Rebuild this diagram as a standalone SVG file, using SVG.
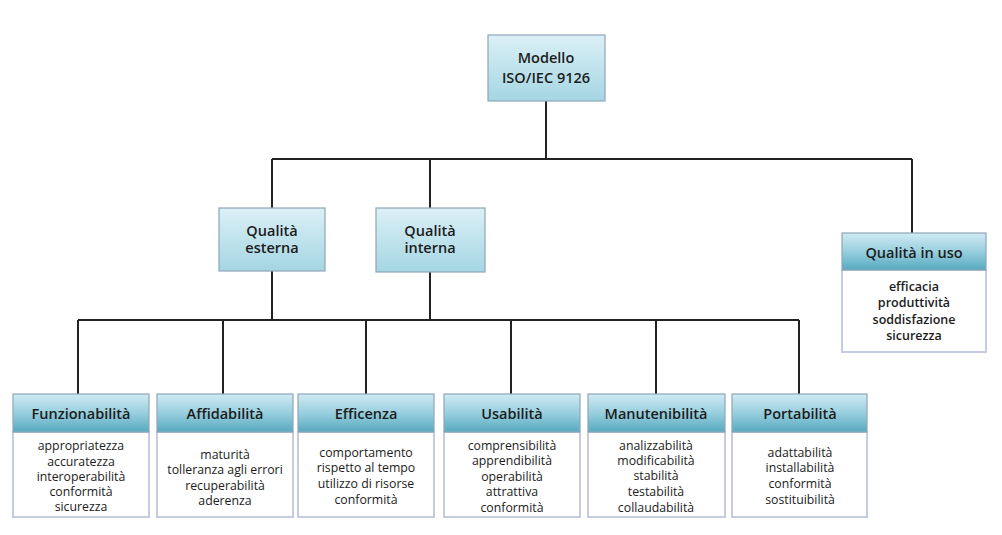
<svg xmlns="http://www.w3.org/2000/svg" width="1002" height="535" viewBox="0 0 1002 535">
<defs>
<linearGradient id="gTop" x1="0" y1="0" x2="0" y2="1">
<stop offset="0" stop-color="#dcf0f6"/>
<stop offset="1" stop-color="#a4d6e3"/>
</linearGradient>
<linearGradient id="gHead" x1="0" y1="0" x2="0" y2="1">
<stop offset="0" stop-color="#d0ebf3"/>
<stop offset="0.5" stop-color="#98cfde"/>
<stop offset="1" stop-color="#56a9c0"/>
</linearGradient>
<style>
.top{fill:url(#gTop);stroke:#8fa6b8;stroke-width:1.2}
.head{fill:url(#gHead);stroke:#8fa6b8;stroke-width:1.2}
.body{fill:#ffffff;stroke:#c5cbe0;stroke-width:2}
.t{font-family:"Open Sans","DejaVu Sans",sans-serif;fill:#1c1c1c;text-anchor:middle}
.tl{font-size:14.5px;font-weight:600}
.tb{font-size:12.3px}
.tq{font-size:12.5px;font-weight:600}
.conn{stroke:#222;stroke-width:2;fill:none}
</style>
</defs>
<rect width="1002" height="535" fill="#ffffff"/>
<g id="connectors" class="conn">
<path d="M546 101V159M272 159H912M272 159V208M430 159V208M912 159V233"/>
<path d="M272 271V320M430 272V320M78 320H799M78 320V394M223 320V394M366 320V394M511 320V394M656 320V394M799 320V394"/>
</g>
<g id="modello">
<rect class="top" x="488" y="35" width="117" height="66"/>
<text class="t tl" x="546" y="63">Modello</text>
<text class="t tl" x="546" y="83">ISO/IEC 9126</text>
</g>
<g id="qualita-esterna">
<rect class="top" x="219" y="208" width="106" height="63"/>
<text class="t tl" x="272" y="236">Qualità</text>
<text class="t tl" x="272" y="253">esterna</text>
</g>
<g id="qualita-interna">
<rect class="top" x="376" y="208" width="109" height="64"/>
<text class="t tl" x="430" y="236">Qualità</text>
<text class="t tl" x="430" y="253">interna</text>
</g>
<g id="qualita-in-uso">
<rect class="body" x="842" y="270" width="144" height="82"/>
<rect class="head" x="842" y="233" width="144" height="37"/>
<text class="t tl" x="914" y="258">Qualità in uso</text>
<text class="t tq" x="914" y="291">efficacia</text>
<text class="t tq" x="914" y="307">produttività</text>
<text class="t tq" x="914" y="324">soddisfazione</text>
<text class="t tq" x="914" y="340">sicurezza</text>
</g>
<g id="funzionabilita">
<rect class="body" x="13" y="432" width="136" height="85"/>
<rect class="head" x="13" y="394" width="136" height="38"/>
<text class="t tl" x="81" y="419">Funzionabilità</text>
<text class="t tb" x="81" y="450">appropriatezza</text>
<text class="t tb" x="81" y="466">accuratezza</text>
<text class="t tb" x="81" y="481">interoperabilità</text>
<text class="t tb" x="81" y="496">conformità</text>
<text class="t tb" x="81" y="511">sicurezza</text>
</g>
<g id="affidabilita">
<rect class="body" x="157" y="432" width="136" height="85"/>
<rect class="head" x="157" y="394" width="136" height="38"/>
<text class="t tl" x="225" y="419">Affidabilità</text>
<text class="t tb" x="225" y="459">maturità</text>
<text class="t tb" x="225" y="474">tolleranza agli errori</text>
<text class="t tb" x="225" y="490">recuperabilità</text>
<text class="t tb" x="225" y="505">aderenza</text>
</g>
<g id="efficenza">
<rect class="body" x="298" y="432" width="136" height="85"/>
<rect class="head" x="298" y="394" width="136" height="38"/>
<text class="t tl" x="366" y="419">Efficenza</text>
<text class="t tb" x="366" y="457">comportamento</text>
<text class="t tb" x="366" y="472">rispetto al tempo</text>
<text class="t tb" x="366" y="488">utilizzo di  risorse</text>
<text class="t tb" x="366" y="504">conformità</text>
</g>
<g id="usabilita">
<rect class="body" x="444" y="432" width="136" height="85"/>
<rect class="head" x="444" y="394" width="136" height="38"/>
<text class="t tl" x="512" y="419">Usabilità</text>
<text class="t tb" x="512" y="450">comprensibilità</text>
<text class="t tb" x="512" y="465">apprendibilità</text>
<text class="t tb" x="512" y="481">operabilità</text>
<text class="t tb" x="512" y="496">attrattiva</text>
<text class="t tb" x="512" y="512">conformità</text>
</g>
<g id="manutenibilita">
<rect class="body" x="588" y="432" width="137" height="85"/>
<rect class="head" x="588" y="394" width="137" height="38"/>
<text class="t tl" x="656" y="419">Manutenibilità</text>
<text class="t tb" x="656" y="450">analizzabilità</text>
<text class="t tb" x="656" y="465">modificabilità</text>
<text class="t tb" x="656" y="480">stabilità</text>
<text class="t tb" x="656" y="496">testabilità</text>
<text class="t tb" x="656" y="512">collaudabilità</text>
</g>
<g id="portabilita">
<rect class="body" x="732" y="432" width="135" height="85"/>
<rect class="head" x="732" y="394" width="135" height="38"/>
<text class="t tl" x="800" y="419">Portabilità</text>
<text class="t tb" x="800" y="457">adattabilità</text>
<text class="t tb" x="800" y="472">installabilità</text>
<text class="t tb" x="800" y="488">conformità</text>
<text class="t tb" x="800" y="504">sostituibilità</text>
</g>
</svg>
